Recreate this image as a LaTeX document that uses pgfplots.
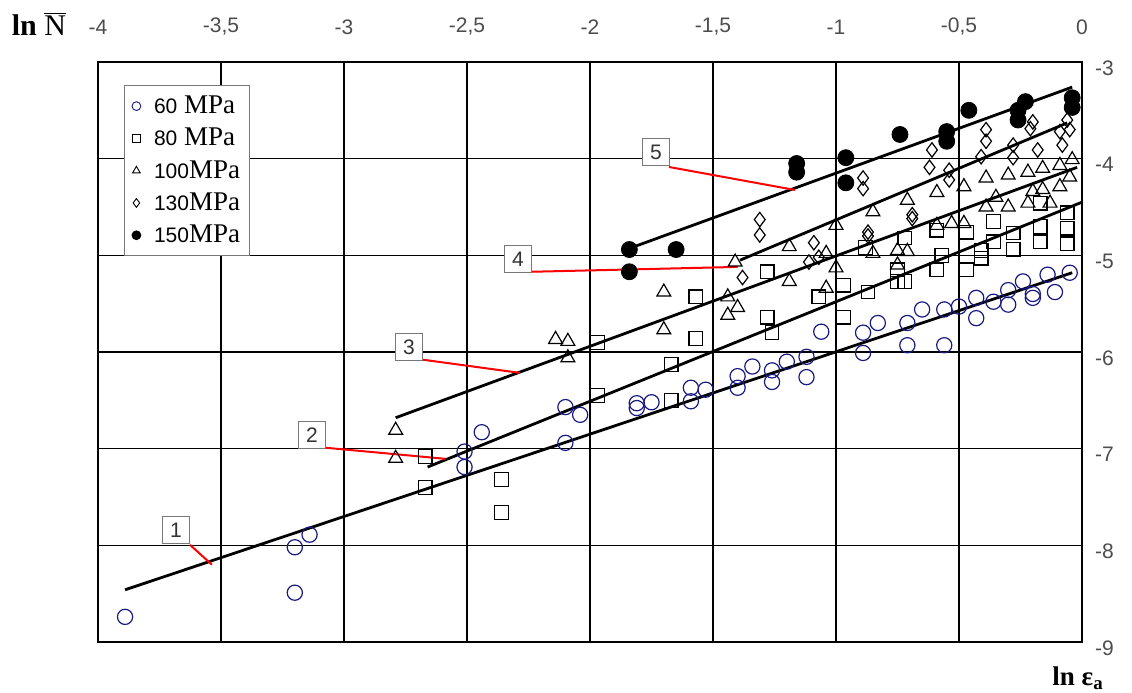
\documentclass[border=0pt]{standalone}
\usepackage{fontspec}
\setmainfont{Liberation Serif}
\setsansfont{Liberation Sans}
\usepackage{pgfplots}
\pgfplotsset{compat=1.18}
\definecolor{navy}{RGB}{25,25,130}
\definecolor{boxgray}{RGB}{120,120,120}

\pgfplotstableread{
x y
-3.89 -8.74
-3.20 -8.02
-3.14 -7.89
-3.20 -8.49
-2.44 -6.83
-2.51 -7.03
-2.51 -7.19
-2.10 -6.57
-2.04 -6.65
-2.10 -6.94
-1.81 -6.53
-1.81 -6.58
-1.75 -6.52
-1.59 -6.37
-1.59 -6.51
-1.53 -6.39
-1.40 -6.25
-1.40 -6.37
-1.34 -6.15
-1.26 -6.19
-1.26 -6.31
-1.20 -6.10
-1.12 -6.05
-1.12 -6.26
-1.06 -5.79
-0.89 -5.80
-0.89 -6.01
-0.83 -5.70
-0.71 -5.70
-0.71 -5.93
-0.65 -5.56
-0.56 -5.56
-0.56 -5.93
-0.50 -5.53
-0.43 -5.44
-0.43 -5.65
-0.36 -5.48
-0.30 -5.36
-0.30 -5.51
-0.24 -5.27
-0.20 -5.44
-0.20 -5.40
-0.14 -5.20
-0.11 -5.38
-0.05 -5.18
}\tSixty

\pgfplotstableread{
x y
-2.67 -7.08
-2.67 -7.40
-2.36 -7.32
-2.36 -7.66
-1.97 -5.90
-1.97 -6.45
-1.67 -6.13
-1.67 -6.50
-1.57 -5.43
-1.57 -5.86
-1.28 -5.17
-1.28 -5.64
-1.26 -5.80
-1.07 -5.43
-0.97 -5.31
-0.97 -5.64
-0.87 -5.38
-0.88 -4.92
-0.72 -4.82
-0.75 -5.15
-0.75 -5.27
-0.72 -5.27
-0.59 -4.74
-0.57 -5.00
-0.59 -5.15
-0.47 -4.76
-0.47 -5.15
-0.41 -4.95
-0.41 -5.03
-0.36 -4.86
-0.36 -4.65
-0.28 -4.77
-0.28 -4.94
-0.17 -4.70
-0.17 -4.86
-0.17 -4.46
-0.06 -4.56
-0.06 -4.72
-0.06 -4.88
}\tEighty

\pgfplotstableread{
x y
-2.79 -6.81
-2.79 -7.10
-2.14 -5.87
-2.09 -5.89
-2.09 -6.06
-1.70 -5.77
-1.70 -5.38
-1.44 -5.62
-1.40 -5.54
-1.44 -5.43
-1.41 -5.07
-1.19 -4.91
-1.19 -5.27
-1.04 -4.98
-1.00 -5.13
-1.04 -5.34
-1.00 -4.69
-0.85 -4.98
-0.85 -4.55
-0.75 -4.95
-0.71 -4.96
-0.75 -5.10
-0.71 -4.43
-0.59 -4.69
-0.59 -4.35
-0.53 -4.67
-0.48 -4.29
-0.48 -4.67
-0.39 -4.20
-0.39 -4.50
-0.35 -4.40
-0.30 -4.17
-0.30 -4.50
-0.22 -4.14
-0.22 -4.46
-0.20 -4.34
-0.16 -4.10
-0.16 -4.32
-0.13 -4.46
-0.09 -4.07
-0.09 -4.29
-0.04 -4.01
-0.05 -4.19
}\tHundred

\pgfplotstableread{
x y
-1.31 -4.63
-1.31 -4.79
-1.09 -4.87
-1.38 -5.23
-1.11 -5.07
-1.07 -5.02
-0.89 -4.20
-0.89 -4.31
-0.87 -4.76
-0.87 -4.80
-0.69 -4.58
-0.69 -4.62
-0.61 -3.91
-0.62 -4.09
-0.54 -4.12
-0.54 -4.22
-0.39 -3.70
-0.39 -3.82
-0.41 -3.98
-0.28 -3.86
-0.28 -3.99
-0.20 -3.62
-0.21 -3.69
-0.18 -3.91
-0.09 -3.72
-0.08 -3.86
-0.06 -3.60
-0.05 -3.70
}\tOneThirty

\pgfplotstableread{
x y
-1.84 -4.94
-1.84 -5.17
-1.65 -4.94
-1.16 -4.05
-1.16 -4.14
-0.96 -3.99
-0.96 -4.25
-0.74 -3.75
-0.55 -3.72
-0.55 -3.82
-0.46 -3.50
-0.26 -3.50
-0.26 -3.60
-0.23 -3.41
-0.04 -3.37
-0.04 -3.47
}\tOneFifty

\begin{document}
\begin{tikzpicture}
\begin{axis}[
  scale only axis, width=492pt, height=290pt,
  xmin=-4, xmax=0, ymin=-9, ymax=-3,
  xtick={-4,-3.5,-3,-2.5,-2,-1.5,-1,-0.5,0},
  xticklabels={-4,{-3,5},-3,{-2,5},-2,{-1,5},-1,{-0,5},0},
  ytick={-9,-8,-7,-6,-5,-4,-3},
  yticklabels={-9,-8,-7,-6,-5,-4,-3},
  xticklabel pos=upper, yticklabel pos=right,
  major tick length=0pt,
  grid=major, grid style={black, line width=0.65pt},
  axis line style={black, line width=0.65pt},
  tick label style={font=\sffamily\fontsize{10.5}{12}\selectfont, text=black!70},
  xticklabel style={yshift=10pt},
  yticklabel style={xshift=3pt, yshift=-3pt},
  clip=false,
  legend style={at={(0.0264,0.960)}, anchor=north west, draw=boxgray,
    line width=0.6pt, font=\fontsize{13.5}{15}\selectfont, row sep=1.8pt,
    inner xsep=2.5pt, inner ysep=3pt},
  legend cell align=left,
  legend image code/.code={\path[draw=none,fill=none] (0,0) -- (0.36cm,0); \draw[#1, mark size=2.2pt, mark options={line width=0.45pt}] plot coordinates {(0.12cm,0cm)};},
]
\addplot[only marks, mark=o, mark size=3.8pt, navy, mark options={line width=0.6pt}] table[x=x,y=y] {\tSixty};
\addlegendentry{{\sffamily\fontsize{10.5}{11}\selectfont 60} MPa}
\addplot[only marks, mark=square, mark size=3.4pt, black, mark options={line width=0.6pt}] table[x=x,y=y] {\tEighty};
\addlegendentry{{\sffamily\fontsize{10.5}{11}\selectfont 80} MPa}
\addplot[only marks, mark=triangle, mark size=4pt, black, mark options={line width=0.6pt}] table[x=x,y=y] {\tHundred};
\addlegendentry{{\sffamily\fontsize{10.5}{11}\selectfont 100}MPa}
\addplot[only marks, mark=diamond, mark size=3.6pt, black, mark options={line width=0.6pt}] table[x=x,y=y] {\tOneThirty};
\addlegendentry{{\sffamily\fontsize{10.5}{11}\selectfont 130}MPa}
\addplot[only marks, mark=*, mark size=4pt, black] table[x=x,y=y] {\tOneFifty};
\addlegendentry{{\sffamily\fontsize{10.5}{11}\selectfont 150}MPa}

% regression lines
\addplot[black, line width=1.4pt, forget plot] coordinates {(-3.89,-8.46) (-0.04,-5.18)};
\addplot[black, line width=1.4pt, forget plot] coordinates {(-2.66,-7.19) (0.0,-4.45)};
\addplot[black, line width=1.4pt, forget plot] coordinates {(-2.79,-6.68) (-0.02,-4.09)};
\addplot[black, line width=1.4pt, forget plot] coordinates {(-1.39,-5.05) (-0.06,-3.63)};
\addplot[black, line width=1.4pt, forget plot] coordinates {(-1.82,-4.91) (-0.04,-3.26)};

% red leaders
\draw[red, line width=1pt] (axis cs:-3.626,-7.995) -- (axis cs:-3.537,-8.20);
\draw[red, line width=1pt] (axis cs:-3.077,-6.99) -- (axis cs:-2.589,-7.105);
\draw[red, line width=1pt] (axis cs:-2.679,-6.08) -- (axis cs:-2.285,-6.216);
\draw[red, line width=1pt] (axis cs:-2.236,-5.17) -- (axis cs:-1.40,-5.12);
\draw[red, line width=1pt] (axis cs:-1.679,-4.086) -- (axis cs:-1.167,-4.324);

\tikzset{lab/.style={draw=boxgray, fill=white, line width=0.7pt, minimum size=13.5pt, inner sep=0pt, font=\sffamily\fontsize{10.5}{12}\selectfont, text=black!80}}
\node[lab] at (axis cs:-3.683,-7.84) {1};
\node[lab] at (axis cs:-3.13,-6.857) {2};
\node[lab] at (axis cs:-2.736,-5.947) {3};
\node[lab] at (axis cs:-2.293,-5.04) {4};
\node[lab] at (axis cs:-1.732,-3.93) {5};

\node[font=\fontsize{15}{17}\selectfont] at (rel axis cs:-0.060,1.066) {\textbf{ln} $\overline{\mbox{N}}$};
\node[font=\fontsize{13.5}{15}\selectfont] at (rel axis cs:0.996,-0.062) {\textbf{ln ε\textsubscript{a}}};

\coordinate (bbA) at (rel axis cs:-0.0996,-0.0879);
\coordinate (bbB) at (rel axis cs:1.0508,1.1069);
\end{axis}
\pgfresetboundingbox
\useasboundingbox (bbA) rectangle (bbB);
\end{tikzpicture}
\end{document}
